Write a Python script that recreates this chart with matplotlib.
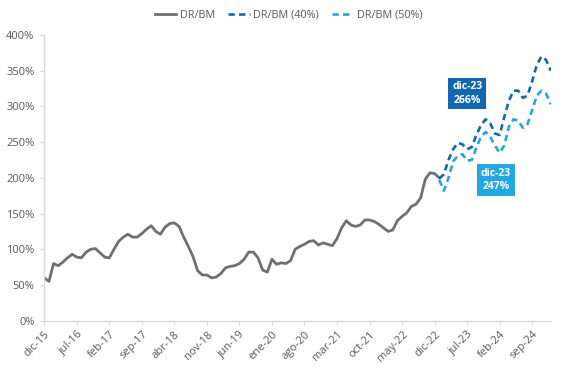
import numpy as np
import pandas as pd
import matplotlib
matplotlib.use('Agg')
import matplotlib.pyplot as plt

plt.rcParams['font.family'] = ['Open Sans', 'DejaVu Sans']

# monthly categories dic-15 .. ene-25
meses = ['ene', 'feb', 'mar', 'abr', 'may', 'jun', 'jul', 'ago', 'sep', 'oct', 'nov', 'dic']
fechas = pd.date_range('2015-12-01', '2025-01-01', freq='MS')
categorias = [f"{meses[d.month - 1]}-{str(d.year)[2:]}" for d in fechas]

# historical DR/BM (%), dic-15 .. ene-23
dr_bm = [60, 55, 80, 77, 82, 88, 93, 89, 88, 96,
         100, 101, 95, 89, 88, 100, 111, 117, 121, 117,
         117, 122, 128, 133, 125, 121, 131, 136, 137, 132,
         117, 104, 90, 70, 64, 64, 60, 61, 66, 74,
         76, 77, 80, 86, 96, 96, 88, 71, 68, 86,
         79, 81, 80, 84, 100, 104, 107, 111, 112, 106,
         109, 107, 105, 115, 130, 140, 134, 132, 134, 141,
         141, 139, 135, 130, 125, 127, 140, 146, 151, 160,
         163, 172, 198, 207, 206, 200]

# projections ene-23 .. ene-25
dr_bm_40 = [199, 205, 225, 240, 249, 247, 240, 243, 260, 274,
            282, 276, 262, 260, 285, 308, 322, 322, 312, 315,
            335, 358, 370, 365, 350]
dr_bm_50 = [197, 182, 200, 223, 231, 233, 224, 225, 242, 258,
            264, 257, 245, 235, 245, 272, 282, 280, 270, 275,
            295, 315, 322, 318, 303]

# data labels shown for dic-23
etiqueta_mes = 'dic-23'
etiqueta_40 = 266
etiqueta_50 = 247

gris = '#707070'
azul_osc = '#1167b1'
azul_cla = '#22a7e2'
txt = '#595959'

x_hist = np.arange(len(dr_bm))
x_proy = np.arange(len(dr_bm) - 1, len(dr_bm) - 1 + len(dr_bm_40))

fig = plt.figure(figsize=(5.67, 3.71), dpi=100)
ax = fig.add_axes([0.0781, 0.1356, 0.8932, 0.7701])

ax.plot(x_hist, dr_bm, color=gris, lw=2.0, label='DR/BM', solid_joinstyle='round')
ax.plot(x_proy, dr_bm_40, color=azul_osc, lw=1.9, dashes=(2.4, 1.6), label='DR/BM (40%)')
ax.plot(x_proy, dr_bm_50, color=azul_cla, lw=1.9, dashes=(2.4, 1.6), label='DR/BM (50%)')

ax.set_xlim(0, len(categorias) - 1)
ax.set_ylim(0, 400)
ax.set_yticks(np.arange(0, 401, 50))
ax.set_yticklabels([f'{v}%' for v in range(0, 401, 50)])
xt = np.arange(0, len(categorias), 7)
ax.set_xticks(xt)
ax.set_xticklabels([categorias[i] for i in xt], rotation=45, ha='right', rotation_mode='anchor')

for s in ['top', 'right']:
    ax.spines[s].set_visible(False)
for s in ['left', 'bottom']:
    ax.spines[s].set_color('#d9d9d9')
    ax.spines[s].set_linewidth(1.0)
ax.tick_params(axis='both', colors='#d9d9d9', labelcolor=txt, labelsize=8, length=3)
ax.tick_params(axis='y', pad=4)
ax.tick_params(axis='x', pad=3)

# dic-23 labels, placed beside the projections
i_lab = categorias.index(etiqueta_mes)
ax.text(i_lab - 5.0, 318, f"{etiqueta_mes}\n{etiqueta_40}%", color='white', fontsize=7.5, fontweight='bold',
        ha='center', va='center', linespacing=1.3,
        bbox=dict(boxstyle='square,pad=0.35', fc=azul_osc, ec='none'))
ax.text(i_lab + 1.2, 197, f"{etiqueta_mes}\n{etiqueta_50}%", color='white', fontsize=7.5, fontweight='bold',
        ha='center', va='center', linespacing=1.3,
        bbox=dict(boxstyle='square,pad=0.35', fc=azul_cla, ec='none'))

fig.legend(loc='center', bbox_to_anchor=(288.5 / 567, 1 - 15 / 371), ncol=3, frameon=False,
           fontsize=7.8, labelcolor=txt, handlelength=2.0, handletextpad=0.3, columnspacing=1.2)

fig.savefig('out.png', dpi=100)
